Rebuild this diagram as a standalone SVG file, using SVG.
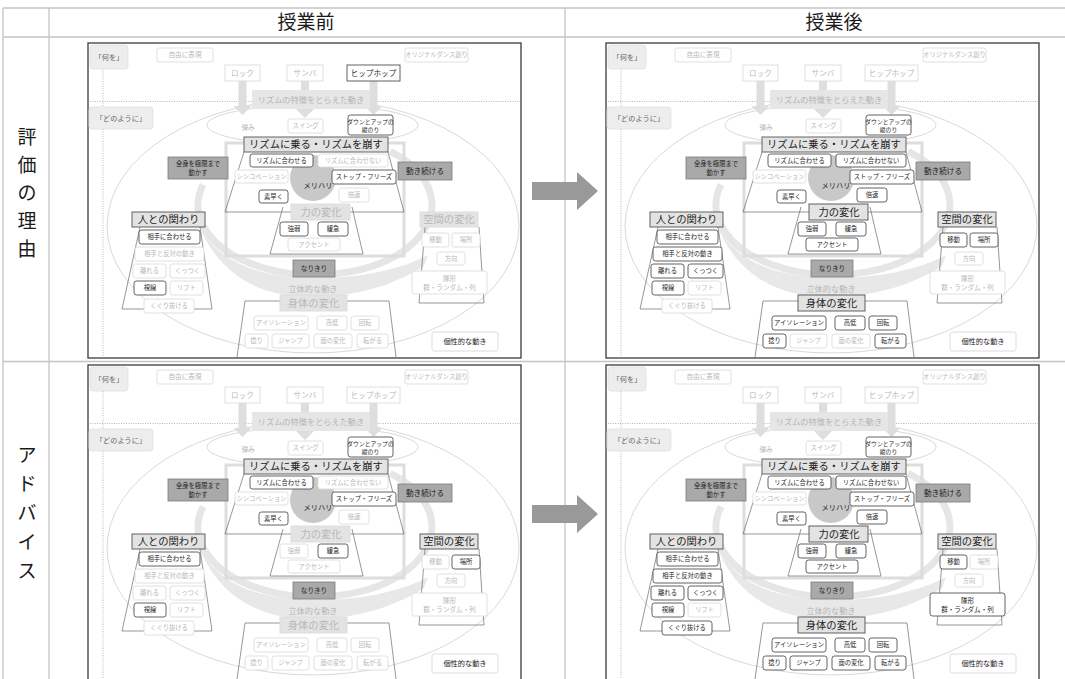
<svg xmlns="http://www.w3.org/2000/svg" xmlns:xlink="http://www.w3.org/1999/xlink" width="1065" height="679" viewBox="0 0 1065 679">
<style>
text{font-family:"Noto Sans CJK JP","Noto Sans CJK SC",sans-serif}
.t{stroke:none;text-anchor:middle}
.b{fill:#fff}
.tb{fill:#e3e3e3}
.on{stroke:#505050;fill:#1e1e1e;stroke-width:0.9}
.off{stroke:#dcdcdc;fill:#b8b8b8;stroke-width:0.9}
.s5{font-size:5.8px}.s6{font-size:6.3px}.s65{font-size:6.6px}.s7{font-size:7.2px}.s75{font-size:7.6px}.s8{font-size:8.2px}.s10{font-size:10.3px}
.grid{stroke:#c4c4c4;stroke-width:1.3;fill:none}
.hd{font-size:19px;fill:#1a1a1a;text-anchor:middle}
.frm{fill:#fff;stroke:#3a3a3a;stroke-width:1.3}
.dot{stroke:#b5b5b5;stroke-width:1;stroke-dasharray:1 1.4;fill:none}
.ell{fill:none;stroke:#cfcfcf;stroke-width:0.8}
.band{fill:none;stroke:#e6e6e6;stroke-width:7}
.sw{fill:#e8e8e8}
.ga{fill:#dedede}
.gr{fill:none;stroke:#dddddd;stroke-width:3}
.tr{fill:none;stroke:#6a6a6a;stroke-width:0.7}
.gbox{fill:#ededed;stroke:#e0e0e0;stroke-width:0.8}
.gtx{fill:#666;stroke:none;text-anchor:middle}
.dk{fill:#a9a9a9;stroke:#7c7c7c;stroke-width:0.8}
.dtx{fill:#222;stroke:none;text-anchor:middle}
.lt{fill:#b5b5b5;text-anchor:middle}
.big{fill:#999}
</style>
<defs>
<g id="panelBase">
<rect class="frm" x="0" y="0" width="433" height="315"/>
<line class="dot" x1="15" y1="26" x2="15" y2="313"/>
<line class="dot" x1="2" y1="58.5" x2="432" y2="58.5"/>
<ellipse class="ell" cx="225" cy="183" rx="206" ry="127"/>
<ellipse class="ell" cx="224.5" cy="82" rx="105.5" ry="20"/>
<path class="band" d="M302.2,108.4 A117,70 0 1 1 115.1,141.5"/>
<path class="sw" d="M110,179 C127,219 172,235 227,235 C272,235 312,227 340,212 L336,223 C307,242 267,254 222,254 C167,254 127,227 110,179 Z"/>
<rect class="gr" x="138" y="100" width="178" height="113"/>
<path class="ga" d="M150.5,38 L158.5,38 L158.5,63 L163.5,63 L154.5,72 L145.5,63 L150.5,63 Z"/>
<path class="ga" d="M213,38 L221,38 L221,66 L226,66 L217,75 L208,66 L213,66 Z"/>
<path class="ga" d="M281.5,38 L289.5,38 L289.5,63 L294.5,63 L285.5,72 L276.5,63 L281.5,63 Z"/>
<rect x="164" y="47" width="118" height="19" fill="#e6e6e6"/>
<text class="lt s8" x="223" y="59.5">リズムの特徴をとらえた動き</text>
<rect class="gbox" x="2" y="2" width="38" height="24" rx="3"/>
<text class="gtx s7" x="21" y="16.5">「何を」</text>
<rect class="gbox" x="1" y="64" width="64" height="22" rx="3"/>
<text class="gtx s7" x="33" y="77.5">「どのように」</text>
<text class="lt s65" x="160" y="86.5">弾み</text>
<path class="tr" d="M156,109 L137,169 L316,169 L300,109"/>
<path class="tr" d="M195,164 L182,211 L275,211 L264,164"/>
<path class="tr" d="M149,314 L157,258 L301,258 L308,314"/>
<path class="tr" d="M52,184 L34,266 L124,266 L112,184"/>
<path class="tr" d="M337,184 L331,260 L396,260 L391,184"/>
<rect x="156" y="94" width="144" height="15" fill="#e3e3e3" stroke="#555" stroke-width="0.9"/>
<text class="dtx s10" x="228" y="105.3">リズムに乗る・リズムを崩す</text>
<circle cx="225" cy="135" r="23" fill="#c8c8c8"/>
<text class="dtx s7" x="230" y="144.5">メリハリ</text>
<rect class="dk" x="80" y="114" width="60" height="22"/>
<text class="dtx s6" x="110" y="123">全身を極限まで</text>
<text class="dtx s6" x="110" y="131.5">動かす</text>
<rect class="dk" x="310" y="119" width="54" height="18"/>
<text class="dtx s75" x="337" y="130.6">動き続ける</text>
<rect class="dk" x="205" y="217" width="42" height="17"/>
<text class="dtx s65" x="226" y="228">なりきり</text>
<text class="lt s8" x="225" y="249">立体的な動き</text>
<rect x="344" y="289" width="66" height="19" rx="2" fill="#fff" stroke="#d8d8d8" stroke-width="0.9"/>
<text class="dtx s7" x="377" y="300.8" fill="#333">個性的な動き</text>
</g>
<g id="n-jiyu"><rect class="b" x="69" y="5" width="56" height="14" rx="2"/><text class="t s65" x="97" y="14.4">自由に表現</text></g>
<g id="n-orig"><rect class="b" x="317" y="5" width="63" height="14" rx="2"/><text class="t s6" x="348.5" y="14.4">オリジナルダンス創り</text></g>
<g id="n-rock"><rect class="b" x="137" y="22" width="35" height="16"/><text class="t s75" x="154.5" y="32.6">ロック</text></g>
<g id="n-samba"><rect class="b" x="199" y="22" width="36" height="16"/><text class="t s75" x="217" y="32.6">サンバ</text></g>
<g id="n-hiphop"><rect class="b" x="259" y="22" width="53" height="16"/><text class="t s75" x="285.5" y="32.6">ヒップホップ</text></g>
<g id="n-swing"><rect class="b" x="200" y="76" width="35" height="14" rx="2"/><text class="t s65" x="217.5" y="85.3">スイング</text></g>
<g id="n-down"><rect class="b" x="260" y="72" width="45" height="20" rx="2.5"/><text class="t s5" x="282.5" y="80.5">ダウンとアップの</text><text class="t s5" x="282.5" y="88.5">縦のり</text></g>
<g id="n-awase"><rect class="b" x="162" y="111" width="63" height="13" rx="2.5"/><text class="t s6" x="193.5" y="119.8">リズムに合わせる</text></g>
<g id="n-awasenai"><rect class="b" x="230" y="111" width="70" height="13" rx="2.5"/><text class="t s6" x="265" y="119.8">リズムに合わせない</text></g>
<g id="n-synco"><rect class="b" x="147" y="127" width="53" height="13" rx="2.5"/><text class="t s6" x="173.5" y="135.8">シンコペーション</text></g>
<g id="n-stop"><rect class="b" x="244" y="127" width="64" height="14" rx="2.5"/><text class="t s6" x="276" y="136.3">ストップ・フリーズ</text></g>
<g id="n-hayaku"><rect class="b" x="171" y="147" width="29" height="13" rx="2.5"/><text class="t s6" x="185.5" y="155.8">素早く</text></g>
<g id="n-baisoku"><rect class="b" x="251" y="145" width="30" height="14" rx="2.5"/><text class="t s6" x="266" y="154.3">倍速</text></g>
<g id="n-chikara"><rect class="tb" x="203" y="161" width="59" height="16"/><text class="t s10" x="233" y="172.5">力の変化</text></g>
<g id="n-kyojaku"><rect class="b" x="192" y="179" width="28" height="14" rx="2.5"/><text class="t s6" x="206" y="188.3">強弱</text></g>
<g id="n-kankyu"><rect class="b" x="230" y="179" width="30" height="14" rx="2.5"/><text class="t s6" x="245" y="188.3">緩急</text></g>
<g id="n-accent"><rect class="b" x="200" y="195" width="52" height="13" rx="2.5"/><text class="t s6" x="226" y="203.8">アクセント</text></g>
<g id="n-shintai"><rect class="tb" x="192" y="252" width="67" height="16"/><text class="t s10" x="225.5" y="263.5">身体の変化</text></g>
<g id="n-iso"><rect class="b" x="166" y="273" width="54" height="14" rx="2.5"/><text class="t s6" x="193" y="282.3">アイソレーション</text></g>
<g id="n-kotei"><rect class="b" x="229" y="273" width="30" height="14" rx="2.5"/><text class="t s6" x="244" y="282.3">高低</text></g>
<g id="n-kaiten"><rect class="b" x="263" y="273" width="28" height="14" rx="2.5"/><text class="t s6" x="277" y="282.3">回転</text></g>
<g id="n-hineri"><rect class="b" x="157" y="291" width="23" height="14" rx="2.5"/><text class="t s6" x="168.5" y="300.3">捻り</text></g>
<g id="n-jump"><rect class="b" x="184" y="291" width="37" height="14" rx="2.5"/><text class="t s6" x="202.5" y="300.3">ジャンプ</text></g>
<g id="n-men"><rect class="b" x="226" y="291" width="38" height="14" rx="2.5"/><text class="t s6" x="245" y="300.3">面の変化</text></g>
<g id="n-korogaru"><rect class="b" x="269" y="291" width="31" height="14" rx="2.5"/><text class="t s6" x="284.5" y="300.3">転がる</text></g>
<g id="n-hito"><rect class="tb" x="44" y="169" width="73" height="15"/><text class="t s10" x="80.5" y="180">人との関わり</text></g>
<g id="n-aite"><rect class="b" x="51" y="187" width="61" height="14" rx="2.5"/><text class="t s6" x="81.5" y="196.3">相手に合わせる</text></g>
<g id="n-hantai"><rect class="b" x="47" y="204" width="69" height="14" rx="2.5"/><text class="t s6" x="81.5" y="213.3">相手と反対の動き</text></g>
<g id="n-hanareru"><rect class="b" x="45" y="221" width="33" height="14" rx="2.5"/><text class="t s6" x="61.5" y="230.3">離れる</text></g>
<g id="n-kuttsuku"><rect class="b" x="82" y="221" width="35" height="14" rx="2.5"/><text class="t s6" x="99.5" y="230.3">くっつく</text></g>
<g id="n-shisen"><rect class="b" x="46" y="238" width="32" height="14" rx="2.5"/><text class="t s6" x="62" y="247.3">視線</text></g>
<g id="n-lift"><rect class="b" x="82" y="238" width="33" height="14" rx="2.5"/><text class="t s6" x="98.5" y="247.3">リフト</text></g>
<g id="n-kuguri"><rect class="b" x="56" y="256" width="50" height="14" rx="2.5"/><text class="t s6" x="81" y="265.3">くぐり抜ける</text></g>
<g id="n-kukan"><rect class="tb" x="332" y="169" width="58" height="15"/><text class="t s10" x="361" y="180">空間の変化</text></g>
<g id="n-ido"><rect class="b" x="334" y="190" width="27" height="14" rx="2.5"/><text class="t s6" x="347.5" y="199.3">移動</text></g>
<g id="n-basho"><rect class="b" x="364" y="190" width="28" height="14" rx="2.5"/><text class="t s6" x="378" y="199.3">場所</text></g>
<g id="n-hoko"><rect class="b" x="349" y="209" width="28" height="13" rx="2.5"/><text class="t s6" x="363" y="217.8">方向</text></g>
<g id="n-taikei"><rect class="b" x="324" y="228" width="75" height="23" rx="2.5"/><text class="t s65" x="361.5" y="237.5">隊形</text><text class="t s65" x="361.5" y="247">群・ランダム・列</text></g>
</defs>

<g id="table">
<line class="grid" x1="3" y1="8" x2="1065" y2="8"/>
<line class="grid" x1="3" y1="37" x2="1065" y2="37"/>
<line class="grid" x1="3" y1="361.5" x2="1065" y2="361.5"/>
<line class="grid" x1="3" y1="8" x2="3" y2="679"/>
<line class="grid" x1="49" y1="8" x2="49" y2="679"/>
<line class="grid" x1="565" y1="8" x2="565" y2="679"/>
<text class="hd" x="306" y="29">授業前</text>
<text class="hd" x="834" y="29">授業後</text>
<g class="hd" font-size="20">
<text x="27" y="144">評</text><text x="27" y="172">価</text><text x="27" y="200">の</text><text x="27" y="228">理</text><text x="27" y="256">由</text>
<text x="27" y="462">ア</text><text x="27" y="491">ド</text><text x="27" y="520">バ</text><text x="27" y="549">イ</text><text x="27" y="578">ス</text>
</g>
</g>

<g id="connectors">
<path id="arrow-row1" class="big" d="M532,182 L577,182 L577,172 L598,191 L577,210 L577,200 L532,200 Z"/>
<path id="arrow-row2" class="big" d="M532,505 L577,505 L577,495 L598,514 L577,533 L577,523 L532,523 Z"/>
</g>

<g id="panel1" transform="translate(88,43)">
<use href="#panelBase"/>
<g id="p1-jiyu" class="off"><use href="#n-jiyu"/></g>
<g id="p1-orig" class="off"><use href="#n-orig"/></g>
<g id="p1-rock" class="off"><use href="#n-rock"/></g>
<g id="p1-samba" class="off"><use href="#n-samba"/></g>
<g id="p1-hiphop" class="on"><use href="#n-hiphop"/></g>
<g id="p1-swing" class="off"><use href="#n-swing"/></g>
<g id="p1-down" class="on"><use href="#n-down"/></g>
<g id="p1-awase" class="on"><use href="#n-awase"/></g>
<g id="p1-awasenai" class="off"><use href="#n-awasenai"/></g>
<g id="p1-synco" class="off"><use href="#n-synco"/></g>
<g id="p1-stop" class="on"><use href="#n-stop"/></g>
<g id="p1-hayaku" class="on"><use href="#n-hayaku"/></g>
<g id="p1-baisoku" class="off"><use href="#n-baisoku"/></g>
<g id="p1-chikara" class="off"><use href="#n-chikara"/></g>
<g id="p1-kyojaku" class="on"><use href="#n-kyojaku"/></g>
<g id="p1-kankyu" class="on"><use href="#n-kankyu"/></g>
<g id="p1-accent" class="off"><use href="#n-accent"/></g>
<g id="p1-shintai" class="off"><use href="#n-shintai"/></g>
<g id="p1-iso" class="off"><use href="#n-iso"/></g>
<g id="p1-kotei" class="off"><use href="#n-kotei"/></g>
<g id="p1-kaiten" class="off"><use href="#n-kaiten"/></g>
<g id="p1-hineri" class="off"><use href="#n-hineri"/></g>
<g id="p1-jump" class="off"><use href="#n-jump"/></g>
<g id="p1-men" class="off"><use href="#n-men"/></g>
<g id="p1-korogaru" class="off"><use href="#n-korogaru"/></g>
<g id="p1-hito" class="on"><use href="#n-hito"/></g>
<g id="p1-aite" class="on"><use href="#n-aite"/></g>
<g id="p1-hantai" class="off"><use href="#n-hantai"/></g>
<g id="p1-hanareru" class="off"><use href="#n-hanareru"/></g>
<g id="p1-kuttsuku" class="off"><use href="#n-kuttsuku"/></g>
<g id="p1-shisen" class="on"><use href="#n-shisen"/></g>
<g id="p1-lift" class="off"><use href="#n-lift"/></g>
<g id="p1-kuguri" class="off"><use href="#n-kuguri"/></g>
<g id="p1-kukan" class="off"><use href="#n-kukan"/></g>
<g id="p1-ido" class="off"><use href="#n-ido"/></g>
<g id="p1-basho" class="off"><use href="#n-basho"/></g>
<g id="p1-hoko" class="off"><use href="#n-hoko"/></g>
<g id="p1-taikei" class="off"><use href="#n-taikei"/></g>
</g>

<g id="panel2" transform="translate(606,43)">
<use href="#panelBase"/>
<g id="p2-jiyu" class="off"><use href="#n-jiyu"/></g>
<g id="p2-orig" class="off"><use href="#n-orig"/></g>
<g id="p2-rock" class="off"><use href="#n-rock"/></g>
<g id="p2-samba" class="off"><use href="#n-samba"/></g>
<g id="p2-hiphop" class="off"><use href="#n-hiphop"/></g>
<g id="p2-swing" class="off"><use href="#n-swing"/></g>
<g id="p2-down" class="on"><use href="#n-down"/></g>
<g id="p2-awase" class="on"><use href="#n-awase"/></g>
<g id="p2-awasenai" class="on"><use href="#n-awasenai"/></g>
<g id="p2-synco" class="off"><use href="#n-synco"/></g>
<g id="p2-stop" class="on"><use href="#n-stop"/></g>
<g id="p2-hayaku" class="on"><use href="#n-hayaku"/></g>
<g id="p2-baisoku" class="on"><use href="#n-baisoku"/></g>
<g id="p2-chikara" class="on"><use href="#n-chikara"/></g>
<g id="p2-kyojaku" class="on"><use href="#n-kyojaku"/></g>
<g id="p2-kankyu" class="on"><use href="#n-kankyu"/></g>
<g id="p2-accent" class="on"><use href="#n-accent"/></g>
<g id="p2-shintai" class="on"><use href="#n-shintai"/></g>
<g id="p2-iso" class="on"><use href="#n-iso"/></g>
<g id="p2-kotei" class="on"><use href="#n-kotei"/></g>
<g id="p2-kaiten" class="on"><use href="#n-kaiten"/></g>
<g id="p2-hineri" class="on"><use href="#n-hineri"/></g>
<g id="p2-jump" class="off"><use href="#n-jump"/></g>
<g id="p2-men" class="off"><use href="#n-men"/></g>
<g id="p2-korogaru" class="on"><use href="#n-korogaru"/></g>
<g id="p2-hito" class="on"><use href="#n-hito"/></g>
<g id="p2-aite" class="on"><use href="#n-aite"/></g>
<g id="p2-hantai" class="on"><use href="#n-hantai"/></g>
<g id="p2-hanareru" class="on"><use href="#n-hanareru"/></g>
<g id="p2-kuttsuku" class="on"><use href="#n-kuttsuku"/></g>
<g id="p2-shisen" class="on"><use href="#n-shisen"/></g>
<g id="p2-lift" class="off"><use href="#n-lift"/></g>
<g id="p2-kuguri" class="off"><use href="#n-kuguri"/></g>
<g id="p2-kukan" class="on"><use href="#n-kukan"/></g>
<g id="p2-ido" class="on"><use href="#n-ido"/></g>
<g id="p2-basho" class="on"><use href="#n-basho"/></g>
<g id="p2-hoko" class="off"><use href="#n-hoko"/></g>
<g id="p2-taikei" class="off"><use href="#n-taikei"/></g>
</g>

<g id="panel3" transform="translate(88,365)">
<use href="#panelBase"/>
<g id="p3-jiyu" class="off"><use href="#n-jiyu"/></g>
<g id="p3-orig" class="off"><use href="#n-orig"/></g>
<g id="p3-rock" class="off"><use href="#n-rock"/></g>
<g id="p3-samba" class="off"><use href="#n-samba"/></g>
<g id="p3-hiphop" class="off"><use href="#n-hiphop"/></g>
<g id="p3-swing" class="off"><use href="#n-swing"/></g>
<g id="p3-down" class="on"><use href="#n-down"/></g>
<g id="p3-awase" class="on"><use href="#n-awase"/></g>
<g id="p3-awasenai" class="off"><use href="#n-awasenai"/></g>
<g id="p3-synco" class="off"><use href="#n-synco"/></g>
<g id="p3-stop" class="on"><use href="#n-stop"/></g>
<g id="p3-hayaku" class="on"><use href="#n-hayaku"/></g>
<g id="p3-baisoku" class="off"><use href="#n-baisoku"/></g>
<g id="p3-chikara" class="off"><use href="#n-chikara"/></g>
<g id="p3-kyojaku" class="off"><use href="#n-kyojaku"/></g>
<g id="p3-kankyu" class="on"><use href="#n-kankyu"/></g>
<g id="p3-accent" class="off"><use href="#n-accent"/></g>
<g id="p3-shintai" class="off"><use href="#n-shintai"/></g>
<g id="p3-iso" class="off"><use href="#n-iso"/></g>
<g id="p3-kotei" class="off"><use href="#n-kotei"/></g>
<g id="p3-kaiten" class="off"><use href="#n-kaiten"/></g>
<g id="p3-hineri" class="off"><use href="#n-hineri"/></g>
<g id="p3-jump" class="off"><use href="#n-jump"/></g>
<g id="p3-men" class="off"><use href="#n-men"/></g>
<g id="p3-korogaru" class="off"><use href="#n-korogaru"/></g>
<g id="p3-hito" class="on"><use href="#n-hito"/></g>
<g id="p3-aite" class="on"><use href="#n-aite"/></g>
<g id="p3-hantai" class="off"><use href="#n-hantai"/></g>
<g id="p3-hanareru" class="off"><use href="#n-hanareru"/></g>
<g id="p3-kuttsuku" class="off"><use href="#n-kuttsuku"/></g>
<g id="p3-shisen" class="on"><use href="#n-shisen"/></g>
<g id="p3-lift" class="off"><use href="#n-lift"/></g>
<g id="p3-kuguri" class="off"><use href="#n-kuguri"/></g>
<g id="p3-kukan" class="on"><use href="#n-kukan"/></g>
<g id="p3-ido" class="off"><use href="#n-ido"/></g>
<g id="p3-basho" class="on"><use href="#n-basho"/></g>
<g id="p3-hoko" class="off"><use href="#n-hoko"/></g>
<g id="p3-taikei" class="off"><use href="#n-taikei"/></g>
</g>

<g id="panel4" transform="translate(606,365)">
<use href="#panelBase"/>
<g id="p4-jiyu" class="off"><use href="#n-jiyu"/></g>
<g id="p4-orig" class="off"><use href="#n-orig"/></g>
<g id="p4-rock" class="off"><use href="#n-rock"/></g>
<g id="p4-samba" class="off"><use href="#n-samba"/></g>
<g id="p4-hiphop" class="off"><use href="#n-hiphop"/></g>
<g id="p4-swing" class="off"><use href="#n-swing"/></g>
<g id="p4-down" class="on"><use href="#n-down"/></g>
<g id="p4-awase" class="on"><use href="#n-awase"/></g>
<g id="p4-awasenai" class="on"><use href="#n-awasenai"/></g>
<g id="p4-synco" class="off"><use href="#n-synco"/></g>
<g id="p4-stop" class="on"><use href="#n-stop"/></g>
<g id="p4-hayaku" class="on"><use href="#n-hayaku"/></g>
<g id="p4-baisoku" class="on"><use href="#n-baisoku"/></g>
<g id="p4-chikara" class="on"><use href="#n-chikara"/></g>
<g id="p4-kyojaku" class="on"><use href="#n-kyojaku"/></g>
<g id="p4-kankyu" class="on"><use href="#n-kankyu"/></g>
<g id="p4-accent" class="on"><use href="#n-accent"/></g>
<g id="p4-shintai" class="on"><use href="#n-shintai"/></g>
<g id="p4-iso" class="on"><use href="#n-iso"/></g>
<g id="p4-kotei" class="on"><use href="#n-kotei"/></g>
<g id="p4-kaiten" class="on"><use href="#n-kaiten"/></g>
<g id="p4-hineri" class="on"><use href="#n-hineri"/></g>
<g id="p4-jump" class="on"><use href="#n-jump"/></g>
<g id="p4-men" class="on"><use href="#n-men"/></g>
<g id="p4-korogaru" class="on"><use href="#n-korogaru"/></g>
<g id="p4-hito" class="on"><use href="#n-hito"/></g>
<g id="p4-aite" class="on"><use href="#n-aite"/></g>
<g id="p4-hantai" class="on"><use href="#n-hantai"/></g>
<g id="p4-hanareru" class="on"><use href="#n-hanareru"/></g>
<g id="p4-kuttsuku" class="on"><use href="#n-kuttsuku"/></g>
<g id="p4-shisen" class="on"><use href="#n-shisen"/></g>
<g id="p4-lift" class="off"><use href="#n-lift"/></g>
<g id="p4-kuguri" class="on"><use href="#n-kuguri"/></g>
<g id="p4-kukan" class="on"><use href="#n-kukan"/></g>
<g id="p4-ido" class="on"><use href="#n-ido"/></g>
<g id="p4-basho" class="off"><use href="#n-basho"/></g>
<g id="p4-hoko" class="off"><use href="#n-hoko"/></g>
<g id="p4-taikei" class="on"><use href="#n-taikei"/></g>
</g>
</svg>
